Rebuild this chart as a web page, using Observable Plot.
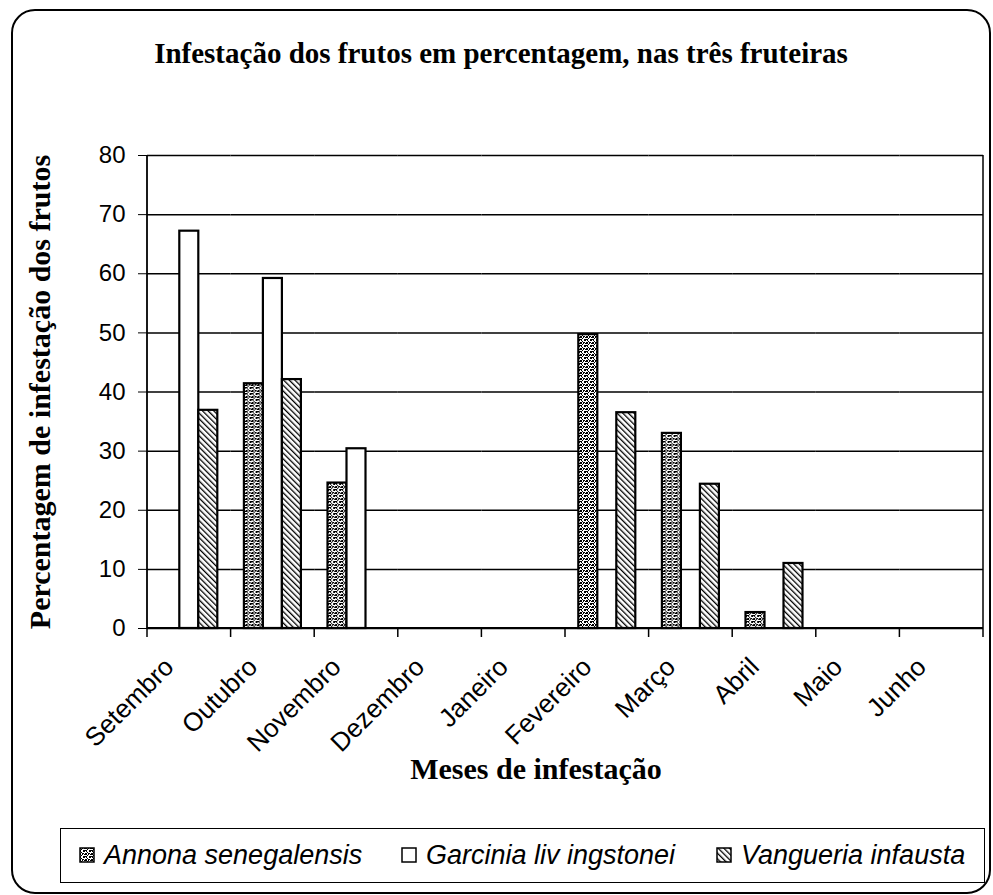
<!DOCTYPE html>
<html>
<head>
<meta charset="utf-8">
<script src="https://cdn.jsdelivr.net/npm/d3@7"></script>
<script src="https://cdn.jsdelivr.net/npm/@observablehq/plot@0.6"></script>
<style>
  html, body { margin: 0; padding: 0; background: #fff; }
  #wrap { position: relative; width: 993px; height: 895px; overflow: hidden; background: #fff; }
  #border { position: absolute; left: 11px; top: 9px; width: 980px; height: 885px; border: 2px solid #000; border-radius: 24px; box-sizing: border-box; }
  .serif { font-family: "Liberation Serif", "Times New Roman", serif; font-weight: bold; color: #000; line-height: 1; white-space: nowrap; }
  #title { position: absolute; left: 1px; width: 1000px; top: 39px; text-align: center; font-size: 29px; }
  #xtitle { position: absolute; left: 336px; width: 400px; top: 754px; text-align: center; font-size: 30px; }
  #ytitle { position: absolute; left: 40px; top: 392px; width: 600px; height: 30px; text-align: center; font-size: 30px; transform: translate(-50%, -50%) rotate(-90deg); }
  #chart { position: absolute; left: 0; top: 0; }
  #legend { position: absolute; left: 60px; top: 828px; width: 925px; height: 55px; border: 1.5px solid #000; box-sizing: border-box; font-family: "Liberation Sans", Arial, sans-serif; font-style: italic; font-size: 27px; color: #000; }
  .item { position: absolute; top: 0; height: 52px; white-space: nowrap; }
  .item svg { position: absolute; left: 0; }
  .item span { position: absolute; left: 0; }
</style>
</head>
<body>
<div id="wrap">
  <div id="border"></div>
  <div id="chart"></div>
  <div id="title" class="serif">Infestação dos frutos em percentagem, nas três fruteiras</div>
  <div id="ytitle" class="serif">Percentagem de infestação dos frutos</div>
  <div id="xtitle" class="serif">Meses de infestação</div>
  <div id="legend"></div>
</div>
<script>
const months = ["Setembro", "Outubro", "Novembro", "Dezembro", "Janeiro", "Fevereiro", "Março", "Abril", "Maio", "Junho"];
const species = ["Annona senegalensis", "Garcinia liv ingstonei", "Vangueria infausta"];
const annona = [0, 41.4, 24.6, 0, 0, 49.7, 33.0, 2.7, 0, 0];
const garcinia = [67.2, 59.2, 30.4, 0, 0, 0, 0, 0, 0, 0];
const vangueria = [36.9, 42.1, 0, 0, 0, 36.5, 24.4, 11.0, 0, 0];
const yTicks = [0, 10, 20, 30, 40, 50, 60, 70, 80];
const fills = ["url(#dots)", "#ffffff", "url(#hatch)"];

const seriesValues = [annona, garcinia, vangueria];
const data = [];
months.forEach((m, i) => {
  species.forEach((s, j) => data.push({month: m, species: s, value: seriesValues[j][i]}));
});

const plot = Plot.plot({
  width: 993,
  height: 740,
  marginLeft: 147,
  marginRight: 10,
  marginTop: 155,
  marginBottom: 112,
  style: {fontFamily: "'Liberation Sans', Arial, sans-serif", fontSize: "24px", color: "#000", background: "transparent", overflow: "visible"},
  fx: {domain: months, padding: 0, round: false, axis: null, label: null},
  x: {domain: species, paddingInner: 0, paddingOuter: 0.7, round: false, axis: null, label: null},
  y: {domain: [0, 80], ticks: yTicks, tickSize: 9, tickPadding: 13, label: null, tickFormat: d => String(d)},
  color: {domain: species, range: fills},
  marks: [
    Plot.ruleY(yTicks, {stroke: "#000", strokeWidth: 1.5}),
    Plot.barY(data, {filter: d => d.value > 0, fx: "month", x: "species", y: "value", fill: "species", stroke: "#000", strokeWidth: 2.2}),
    Plot.text(months, {fx: d => d, text: d => d, frameAnchor: "bottom", rotate: -45, textAnchor: "end", dy: 40, dx: -14, fontSize: 26, fill: "#000"})
  ]
});

document.getElementById("chart").appendChild(plot);

// patterns + category separator ticks + plot frame, positioned via the plot's scales
const svg = d3.select(plot);
const defs = svg.insert("defs", ":first-child");
const dots = defs.append("pattern").attr("id", "dots").attr("patternUnits", "userSpaceOnUse").attr("width", 6).attr("height", 6);
dots.append("rect").attr("width", 6).attr("height", 6).attr("fill", "#fff");
[[0,0,2,2],[3,0,2,1],[3,1,1,1],[1,3,1,2],[0,3,1,1],[4,3,2,2],[2,5,1,1],[5,1,1,1],[2,2,1,1]].forEach(([x,y,w,h]) =>
  dots.append("rect").attr("x", x).attr("y", y).attr("width", w).attr("height", h).attr("fill", "#000"));
const hatch = defs.append("pattern").attr("id", "hatch").attr("patternUnits", "userSpaceOnUse").attr("width", 4).attr("height", 4).attr("patternTransform", "rotate(-45)");
hatch.append("rect").attr("width", 4).attr("height", 4).attr("fill", "#fff");
hatch.append("line").attr("x1", 0).attr("y1", 0).attr("x2", 0).attr("y2", 4).attr("stroke", "#000").attr("stroke-width", 2.6);

const fxs = plot.scale("fx");
const ys = plot.scale("y");
const x0 = Math.min(...fxs.range), x1 = Math.max(...fxs.range);
const step = (x1 - x0) / fxs.domain.length;
const yb = Math.max(...ys.range), yt = Math.min(...ys.range);
const g = svg.append("g").attr("stroke", "#000").attr("fill", "none");
for (let i = 0; i <= fxs.domain.length; i++) {
  g.append("line").attr("x1", x0 + i * step).attr("x2", x0 + i * step).attr("y1", yb).attr("y2", yb + 9).attr("stroke-width", 1.5);
}
g.append("line").attr("x1", x0).attr("x2", x0).attr("y1", yt).attr("y2", yb).attr("stroke-width", 1.8);
g.append("line").attr("x1", x1).attr("x2", x1).attr("y1", yt).attr("y2", yb).attr("stroke-width", 1.5);
g.append("line").attr("x1", x0).attr("x2", x1).attr("y1", yb).attr("y2", yb).attr("stroke-width", 2);

// legend (item offsets inside the legend box)
const itemLeft = [18, 340, 655];
const legend = d3.select("#legend");
species.forEach((s, j) => {
  const item = legend.append("div").attr("class", "item").style("left", itemLeft[j] + "px").style("width", "300px");
  const sw = item.append("svg").attr("width", 16).attr("height", 16).style("top", "18px");
  sw.append("rect").attr("x", 1).attr("y", 1).attr("width", 14).attr("height", 14).attr("fill", fills[j]).attr("stroke", "#000").attr("stroke-width", 1.5);
  item.append("span").style("left", "25px").style("top", "11px").text(s);
});
</script>
</body>
</html>
